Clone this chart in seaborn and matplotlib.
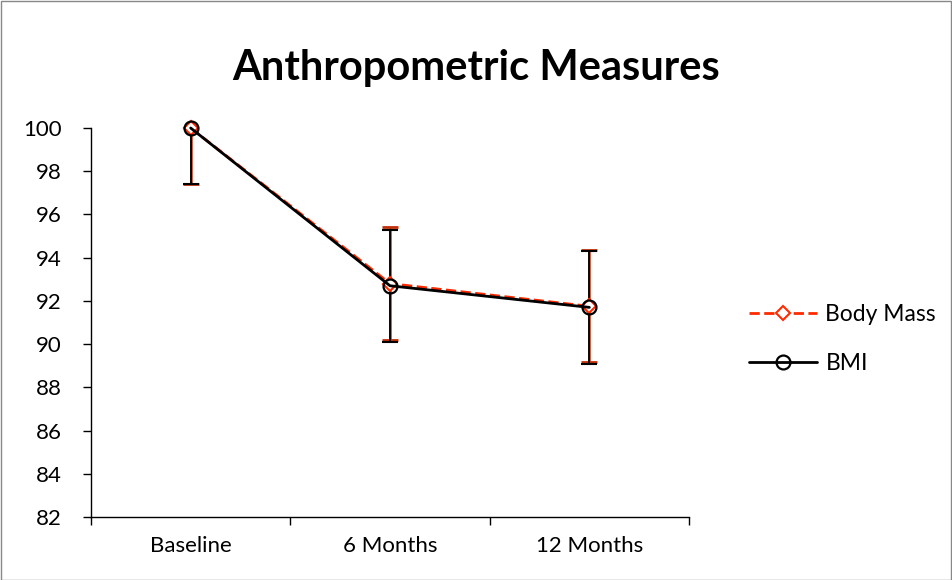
import matplotlib
matplotlib.use("Agg")
import matplotlib.pyplot as plt
import seaborn as sns
from matplotlib.patches import Rectangle

# ── Data ──
categories = ["Baseline", "6 Months", "12 Months"]
body_mass = [100.0, 92.8, 91.75]
body_mass_err = [2.6, 2.6, 2.6]
bmi = [100.0, 92.7, 91.7]
bmi_err = [2.6, 2.6, 2.6]
y_ticks = [82, 84, 86, 88, 90, 92, 94, 96, 98, 100]

sns.set_style("white")
plt.rcParams["font.family"] = ["Lato", "DejaVu Sans"]
plt.rcParams["text.color"] = "black"
plt.rcParams["xtick.color"] = "black"
plt.rcParams["ytick.color"] = "black"

fig = plt.figure(figsize=(9.52, 5.8), dpi=100)
ax = fig.add_axes([91 / 952, 1 - 517 / 580, (689 - 91) / 952, (517 - 128) / 580])

x = list(range(len(categories)))
red = "#FF2A00"

# ── Error bars ──
ax.errorbar(x, body_mass, yerr=body_mass_err, fmt="none", ecolor="#C0300A",
            elinewidth=1.8, capsize=6, capthick=2, zorder=2)
ax.errorbar(x, bmi, yerr=bmi_err, fmt="none", ecolor="black",
            elinewidth=1.3, capsize=6, capthick=1.5, zorder=2)

# ── Lines ──
sns.lineplot(x=x, y=body_mass, ax=ax, color=red, lw=2, linestyle="--",
             marker="D", markersize=7, markerfacecolor="white",
             markeredgecolor=red, markeredgewidth=1.5, label="Body Mass",
             zorder=3, clip_on=False)
sns.lineplot(x=x, y=bmi, ax=ax, color="black", lw=2,
             marker="o", markersize=10, markerfacecolor="none",
             markeredgecolor="black", markeredgewidth=1.6, label="BMI",
             zorder=4, clip_on=False)

ax.set_xlim(-0.5, 2.5)
ax.set_ylim(82, 100)
ax.set_yticks(y_ticks)
ax.set_yticklabels([str(t) for t in y_ticks], fontsize=16)
ax.set_xticks([-0.5, 0.5, 1.5, 2.5])
ax.set_xticklabels([])
ax.set_xticks(x, minor=True)
ax.set_xticklabels(categories, minor=True, fontsize=16)
ax.tick_params(axis="x", which="major", direction="out", length=6, width=1, color="black", bottom=True)
ax.tick_params(axis="x", which="minor", length=0, pad=14)
ax.tick_params(axis="y", direction="out", length=6, width=1, color="black", left=True, pad=15)

for s in ["top", "right"]:
    ax.spines[s].set_visible(False)
for s in ["left", "bottom"]:
    ax.spines[s].set_color("black")
    ax.spines[s].set_linewidth(1)

ax.legend_.remove()
handles, labels = ax.get_legend_handles_labels()
fig.legend(handles, labels, loc="center left", bbox_to_anchor=(728 / 952, 1 - 339 / 580),
           frameon=False, fontsize=16.5, handlelength=3.0, labelspacing=1.25,
           handletextpad=0.35)

fig.suptitle("Anthropometric Measures", fontsize=30, fontweight="bold", y=1 - 68 / 580,
             va="center")

fig.patches.append(Rectangle((0.5 / 952, 0.5 / 580), 1 - 1.5 / 952, 1 - 1.5 / 580,
                             transform=fig.transFigure, fill=False,
                             edgecolor="#888888", lw=1))

plt.savefig("out.png", dpi=100)
plt.close()
